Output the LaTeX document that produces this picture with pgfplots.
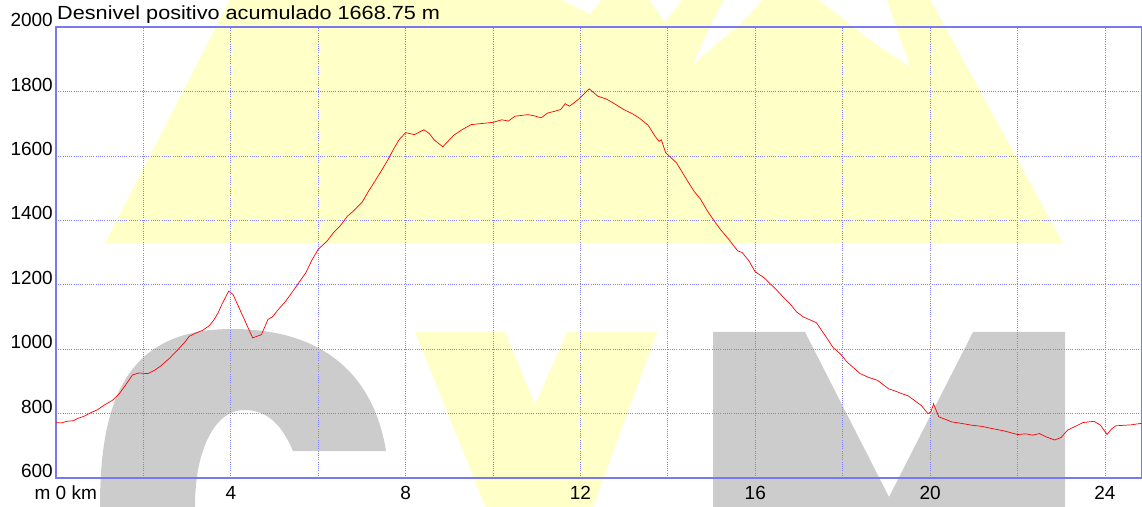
\documentclass[border=0pt]{standalone}
\usepackage{pgfplots}
\pgfplotsset{compat=1.18}
\usepackage{fontspec}
\setmainfont{Liberation Sans}
\definecolor{wmyellow}{RGB}{255,255,200}
\definecolor{wmgray}{RGB}{204,204,204}
\definecolor{gridblue}{RGB}{128,128,255}
\definecolor{axblue}{RGB}{120,120,240}
\begin{document}
\begin{tikzpicture}
\path[use as bounding box] (-56pt,-28pt) rectangle (1086pt,478pt);
\begin{scope}[x=1pt,y=1pt]
\clip (-56,-28) rectangle (1086,478);
% watermark: mountain
\fill[wmyellow] (49,235) -- (1007,235) -- (869,488) -- (179,488) -- cycle;
\fill[white] (496,483) -- (549,483) -- (534,464) -- cycle;
\fill[white] (590,483) -- (630,483) -- (609,456) -- cycle;
\fill[white] (637,414) -- (657,458) -- (671,483) -- (711,483) -- (684,454) -- cycle;
\fill[white] (757,483) -- (829,483) -- (854,411) -- (814,438) -- cycle;
% C
\fill[wmgray] (44,-40) -- (44,-28) .. controls (44,85) and (75,149) .. (176,149)
  .. controls (280,149) and (320,90) .. (330,27) -- (237,27)
  .. controls (225,55) and (210,68) .. (188,68)
  .. controls (160,68) and (139,30) .. (139,-28) -- (139,-40) -- cycle;
% V
\fill[wmyellow] (359,146) -- (449,146) -- (479,73) -- (511,146) -- (601,146) -- (533,-40) -- (434,-40) -- cycle;
% M
\fill[wmgray] (657,-40) -- (657,146) -- (749,146) -- (833,-19) -- (917,146) -- (1009,146) -- (1009,-40) -- cycle;
\end{scope}
\begin{axis}[
  at={(0pt,0pt)}, anchor=south west,
  scale only axis, width=1086pt, height=451pt,
  xmin=0, xmax=24.85, ymin=600, ymax=2000,
  axis line style={axblue, line width=1.2pt},
  xtick={0,4,8,12,16,20,24},
  xticklabels={\hspace*{10pt}\makebox[0pt][r]{m\ }0\makebox[0pt][l]{\ km},4,8,12,16,20,24},
  minor xtick={2,6,10,14,18,22},
  ytick={600,800,1000,1200,1400,1600,1800,2000},
  grid=both,
  major grid style={gridblue, line width=0.7pt, dash pattern=on 1pt off 1.2pt},
  minor grid style={gridblue, line width=0.7pt, dash pattern=on 1pt off 1.2pt},
  major tick length=0pt, minor tick length=0pt,
  tick style={draw=none},
  /pgf/number format/assume math mode=true,
  /pgf/number format/1000 sep={},
  tick label style={font=\fontsize{19}{22}\selectfont, text=black},
  yticklabel style={anchor=south east, inner sep=0pt, xshift=-3pt},
  xticklabel style={anchor=north, inner sep=0pt, yshift=-8pt},
]
\addplot[red, line width=0.7pt, mark=none] coordinates {
(0,772) (0.12,771) (0.25,776) (0.4,778) (0.5,785) (0.65,792) (0.8,803) (0.95,812) (1.1,826)
(1.3,842) (1.45,862) (1.6,890) (1.75,920) (1.9,926) (2.1,924) (2.25,934)
(2.4,948) (2.6,972) (2.8,1000) (2.95,1022) (3.05,1040) (3.2,1050) (3.35,1058) (3.5,1072) (3.6,1088)
(3.7,1110) (3.8,1140) (3.95,1180) (4.05,1170)
(4.25,1110) (4.5,1035) (4.6,1040) (4.7,1045) (4.85,1092) (4.95,1100) (5.1,1125) (5.25,1148) (5.4,1176)
(5.55,1205) (5.72,1238) (5.85,1275)
(6.0,1310) (6.2,1335) (6.35,1362) (6.5,1382) (6.67,1413) (6.8,1428) (7.0,1455) (7.15,1490) (7.3,1522)
(7.45,1555) (7.6,1589) (7.72,1620) (7.85,1650) (8.0,1672)
(8.2,1666) (8.42,1681) (8.55,1668) (8.65,1650) (8.85,1628) (9.1,1664) (9.3,1682) (9.5,1697) (10.0,1704)
(10.2,1712) (10.35,1708) (10.5,1723)
(10.8,1728) (10.95,1724) (11.1,1718) (11.25,1733) (11.4,1738) (11.55,1744) (11.65,1762) (11.75,1754) (11.95,1775) (12.2,1808) (12.4,1785)
(12.6,1776) (12.8,1760) (13.0,1743) (13.2,1730) (13.35,1717) (13.55,1695) (13.7,1662) (13.8,1645) (13.85,1650) (13.95,1610) (14.2,1578) (14.45,1522)
(14.6,1490) (14.75,1465) (14.9,1430) (15.05,1400) (15.2,1372) (15.4,1340) (15.5,1322) (15.6,1305) (15.7,1300) (15.85,1275) (16.0,1240) (16.2,1222) (16.35,1202)
(16.5,1182) (16.65,1160) (16.8,1140) (16.95,1115) (17.1,1100) (17.3,1088) (17.4,1082) (17.55,1052) (17.65,1032) (17.78,1005) (17.95,985) (18.1,960) (18.25,942) (18.4,924)
(18.6,912) (18.8,903) (19.05,877) (19.2,870) (19.35,862) (19.5,855) (19.65,840) (19.8,825) (19.95,800) (20.02,805) (20.08,830) (20.2,790)
(20.35,782) (20.5,774) (20.7,770) (20.95,764) (21.2,760) (21.4,754) (21.7,746) (22.0,735) (22.2,737) (22.35,733) (22.5,738) (22.65,728) (22.85,718) (23.0,726) (23.15,749) (23.35,762) (23.5,772)
(23.75,776) (23.9,764) (24.05,735) (24.15,752) (24.25,762) (24.6,765) (24.85,770)
};
\end{axis}
\node[anchor=base west, inner sep=0pt, font=\fontsize{19}{22}\selectfont] at (1pt,458pt) {\scalebox{1.14}[1]{Desnivel positivo acumulado 1668.75 m}};
\end{tikzpicture}
\end{document}
